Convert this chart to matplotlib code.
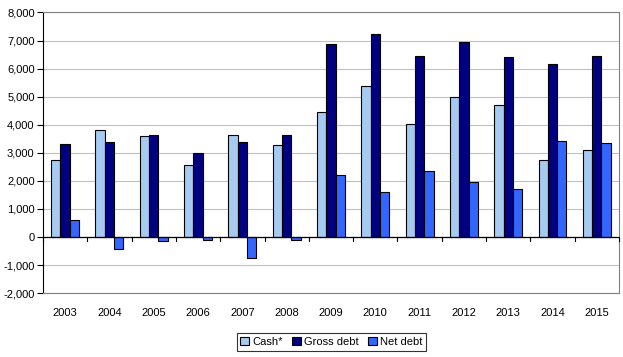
import numpy as np
import matplotlib.pyplot as plt
from matplotlib.transforms import blended_transform_factory

plt.rcParams['font.family'] = ['Liberation Sans', 'DejaVu Sans']

years = ['2003', '2004', '2005', '2006', '2007', '2008', '2009',
         '2010', '2011', '2012', '2013', '2014', '2015']
cash = [2730, 3800, 3600, 2560, 3630, 3270, 4450, 5370, 4020, 4980, 4700, 2730, 3090]
gross_debt = [3300, 3370, 3640, 2980, 3370, 3640, 6880, 7240, 6440, 6940, 6410, 6170, 6440]
net_debt = [600, -440, -150, -120, -760, -120, 2210, 1590, 2340, 1950, 1700, 3410, 3340]

series = [('Cash*', cash, '#A6CAF0'),
          ('Gross debt', gross_debt, '#000080'),
          ('Net debt', net_debt, '#3366FF')]

fig = plt.figure(figsize=(6.23, 3.57), dpi=100)
ax = fig.add_axes([0.069, 0.179, 0.9245, 0.786])

x = np.arange(len(years))
w = 0.21
for i, (name, vals, col) in enumerate(series):
    ax.bar(x + (i - 1) * w, vals, w, color=col, edgecolor='black',
           linewidth=0.8, label=name, zorder=3)

ax.set_xlim(-0.5, len(years) - 0.5)
ax.set_ylim(-2000, 8000)
ax.set_yticks(np.arange(-2000, 8001, 1000))
ax.set_yticklabels([f'{v:,}' for v in range(-2000, 8001, 1000)])
ax.yaxis.grid(True, color='#c0c0c0', linewidth=0.8, zorder=0)
ax.set_xticks(x)
ax.set_xticklabels(years)
ax.tick_params(axis='x', length=0, pad=11, labelsize=8)
ax.tick_params(axis='y', length=4, width=0.8, color='black', labelsize=8, pad=2)

for s in ['top', 'right', 'bottom']:
    ax.spines[s].set_color('#808080')
ax.spines['left'].set_color('black')

# zero axis with category tick marks
ax.axhline(0, color='black', linewidth=0.9, zorder=4)
trans = blended_transform_factory(ax.transData, ax.transAxes)
zero_frac = 2000 / 10000
for b in np.arange(-0.5, len(years), 1.0):
    ax.plot([b, b], [zero_frac, zero_frac - 0.015], color='black',
            linewidth=0.8, transform=trans, clip_on=False, zorder=4)

leg = fig.legend(loc='center', bbox_to_anchor=(0.532, 0.043), ncol=3,
                 fontsize=8, frameon=True, fancybox=False,
                 edgecolor='black', handlelength=0.8, handleheight=0.8,
                 handletextpad=0.3, columnspacing=0.8, borderpad=0.35)
leg.get_frame().set_linewidth(0.8)

fig.savefig('out.png', dpi=100)
